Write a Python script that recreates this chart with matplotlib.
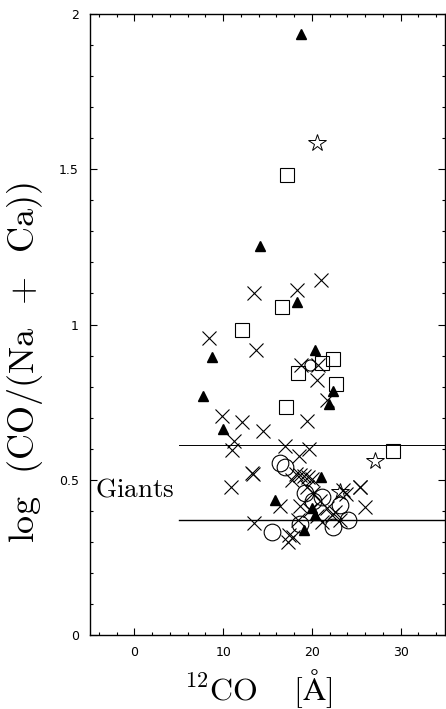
import numpy as np
from matplotlib import pyplot as plt
from matplotlib.ticker import MultipleLocator

plt.rcParams['mathtext.fontset'] = 'cm'

# filled triangles
tri_x = [18.83, 14.13, 18.30, 20.33, 8.80, 22.40, 21.95, 7.75, 10.04, 20.98, 15.82, 19.07, 19.96, 20.33]
tri_y = [1.935, 1.252, 1.071, 0.919, 0.896, 0.785, 0.745, 0.769, 0.665, 0.509, 0.435, 0.339, 0.409, 0.387]

# open squares
sq_x = [17.21, 16.58, 12.10, 21.16, 22.40, 18.45, 22.70, 17.06, 29.16]
sq_y = [1.482, 1.057, 0.981, 0.876, 0.890, 0.844, 0.809, 0.733, 0.591]

# open stars
star_x = [20.59, 27.10, 23.15]
star_y = [1.584, 0.559, 0.462]

# open circles
circ_x = [16.39, 17.00, 15.51, 18.70, 19.21, 21.09, 23.15, 24.09, 22.40, 20.14]
circ_y = [0.554, 0.542, 0.333, 0.359, 0.458, 0.445, 0.419, 0.371, 0.349, 0.430]
small_circ_x = [19.83]
small_circ_y = [0.871]

# crosses
x_x = [20.98, 13.45, 18.34, 8.41, 13.76, 18.83, 20.70, 20.59, 21.65, 9.85,
       12.13, 14.50, 19.40, 11.20, 16.92, 19.69, 11.05, 18.56, 13.21, 13.40,
       10.94, 16.39, 13.45, 17.46, 17.32, 18.21, 18.64, 19.09, 19.54, 19.99,
       17.71, 19.40, 20.14, 20.90, 21.65, 22.22, 23.15, 19.77, 20.53, 21.09,
       18.64, 23.50, 23.85, 25.41, 25.45, 25.97, 17.89, 22.59, 18.40]
x_y = [1.143, 1.102, 1.110, 0.957, 0.919, 0.871, 0.871, 0.820, 0.758, 0.706,
       0.686, 0.656, 0.688, 0.624, 0.610, 0.598, 0.597, 0.575, 0.522, 0.518,
       0.478, 0.414, 0.362, 0.321, 0.301, 0.519, 0.516, 0.513, 0.510, 0.503,
       0.500, 0.478, 0.457, 0.430, 0.409, 0.387, 0.371, 0.403, 0.382, 0.365,
       0.414, 0.468, 0.455, 0.476, 0.477, 0.412, 0.317, 0.397, 0.371]

giant_lines = [0.612, 0.371]

fig = plt.figure(figsize=(4.46, 7.09), dpi=100)
ax = fig.add_axes([90/446, 74/709, 355/446, 621/709])

for yl, lw in zip(giant_lines, [0.7, 1.0]):
    ax.plot([5, 35], [yl, yl], color='k', lw=lw, zorder=1)

ax.plot(x_x, x_y, 'x', ms=9.5, mew=0.8, color='k', zorder=3)
ax.plot(circ_x, circ_y, 'o', ms=12, mfc='none', mec='k', mew=0.8, zorder=3)
ax.plot(small_circ_x, small_circ_y, 'o', ms=8, mfc='none', mec='k', mew=0.8, zorder=3)
ax.plot(sq_x, sq_y, 's', ms=9.5, mfc='none', mec='k', mew=0.8, zorder=3)
ax.plot(star_x, star_y, '*', ms=13, mfc='none', mec='k', mew=0.7, zorder=3)
ax.plot(tri_x, tri_y, '^', ms=7.5, color='k', zorder=4)

ax.text(-4.4, 0.468, r'$\mathrm{Giants}$', fontsize=19.5, va='center', ha='left')

ax.set_xlim(-5, 35)
ax.set_ylim(0, 2)
ax.xaxis.set_major_locator(MultipleLocator(10))
ax.xaxis.set_minor_locator(MultipleLocator(2))
ax.yaxis.set_major_locator(MultipleLocator(0.5))
ax.yaxis.set_minor_locator(MultipleLocator(0.1))
ax.set_yticks([0, 0.5, 1, 1.5, 2])
ax.set_yticklabels(['0', '0.5', '1', '1.5', '2'])
ax.tick_params(which='both', direction='in', top=True, right=True, labelsize=9, width=0.8)
ax.tick_params(which='major', length=5, pad=8)
ax.tick_params(which='minor', length=2.5)
for s in ax.spines.values():
    s.set_linewidth(1.0)

ax.set_xlabel(r'$^{12}\mathrm{CO}\quad\;[\mathrm{\AA}]$', fontsize=23)
ax.xaxis.label.set_va('baseline')
ax.xaxis.set_label_coords(0.475, -0.1047)

ax.set_ylabel(r'$\log\;\;(\mathrm{CO}/(\mathrm{Na}\;\;+\;\;\mathrm{Ca}))$', fontsize=26)
ax.yaxis.set_label_coords(-0.127, 0.438)

fig.savefig('out.png', dpi=100)
